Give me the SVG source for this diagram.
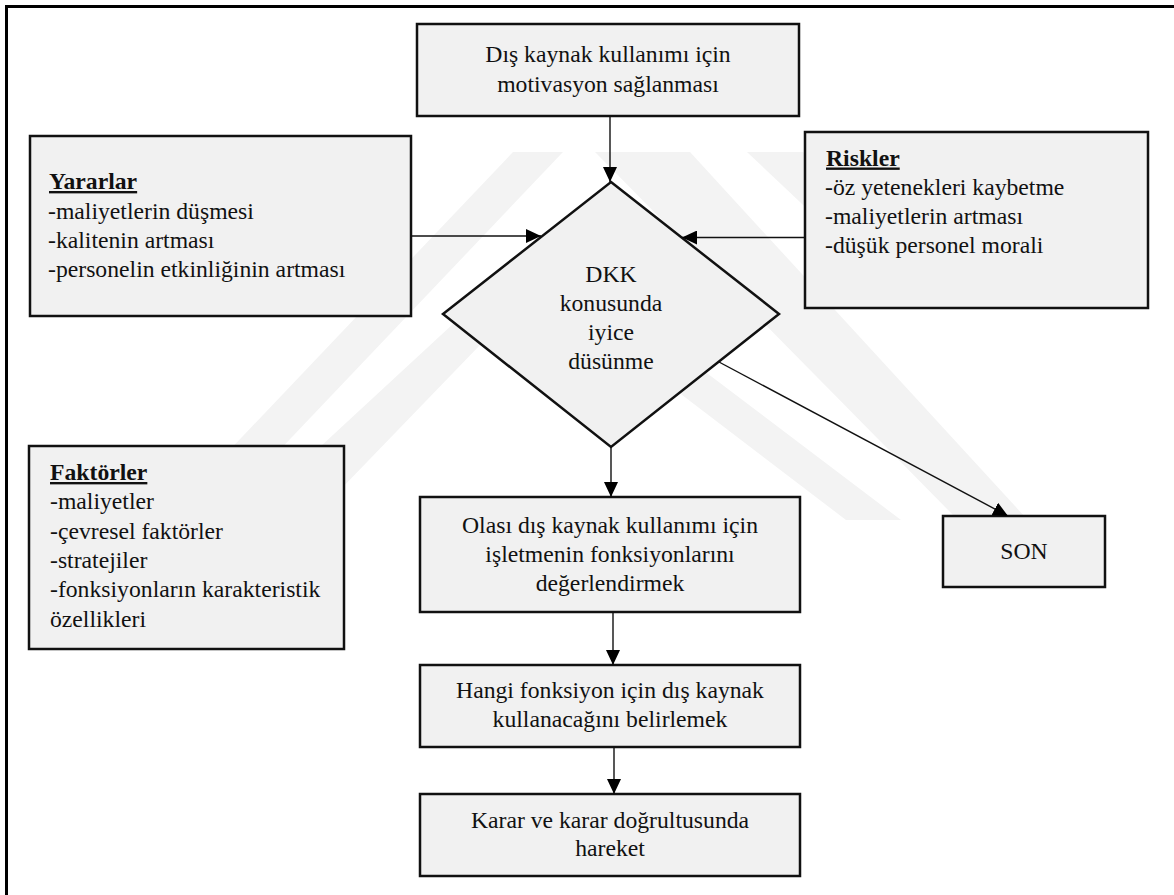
<svg xmlns="http://www.w3.org/2000/svg" width="1174" height="895" viewBox="0 0 1174 895">
<defs>
<style>
text{font-family:'Liberation Serif','DejaVu Serif',serif;font-size:23.7px;fill:#111}
.c{text-anchor:middle}
.h{font-weight:bold;text-decoration:underline}
.box{fill:#f1f1f1;stroke:#111;stroke-width:2.5}
.ln{stroke:#111;stroke-width:1.4;fill:none;marker-end:url(#ah)}
.wm{fill:#f3f3f3}
</style>
<marker id="ah" markerUnits="userSpaceOnUse" markerWidth="16" markerHeight="14" refX="15" refY="7" orient="auto">
<path d="M0,0 L15,7 L0,14 Z" fill="#000"/>
</marker>
</defs>
<rect width="1174" height="895" fill="#fff"/>

<g id="watermark">
<polygon class="wm" points="513,152 563,152 216,517 166,517"/>
<polygon class="wm" points="595,152 690,152 1025,517 955,517"/>
<polygon class="wm" points="747,152 803,152 960,300 904,300"/>
<polygon class="wm" points="520,262 560,262 901,520 846,520 538,285 311,520 241,520"/>
</g>

<path d="M6.5,895 V6.5 H1174" fill="none" stroke="#000" stroke-width="3"/>

<g id="n-motivasyon">
<rect class="box" x="417" y="24" width="382" height="92"/>
<text class="c" x="608" y="62">Dış kaynak kullanımı için</text>
<text class="c" x="608" y="92">motivasyon sağlanması</text>
</g>

<g id="n-yararlar">
<rect class="box" x="30" y="136" width="381" height="180"/>
<text class="h" x="49" y="189">Yararlar</text>
<text x="48" y="218.5">-maliyetlerin düşmesi</text>
<text x="48" y="248">-kalitenin artması</text>
<text x="48" y="277">-personelin etkinliğinin artması</text>
</g>

<g id="n-riskler">
<rect class="box" x="805" y="132" width="343" height="176"/>
<text class="h" x="826" y="165.5">Riskler</text>
<text x="825" y="194.5">-öz yetenekleri kaybetme</text>
<text x="825" y="224">-maliyetlerin artması</text>
<text x="825" y="253">-düşük personel morali</text>
</g>

<g id="n-dkk">
<polygon class="box" points="611,182 779,314 611,447 443,314"/>
<text class="c" x="611" y="282">DKK</text>
<text class="c" x="611" y="311">konusunda</text>
<text class="c" x="611" y="340">iyice</text>
<text class="c" x="611" y="369">düsünme</text>
</g>

<g id="n-faktorler">
<rect class="box" x="29" y="446" width="315" height="203"/>
<text class="h" x="50" y="480">Faktörler</text>
<text x="50" y="509.3">-maliyetler</text>
<text x="50" y="538.6">-çevresel faktörler</text>
<text x="50" y="568">-stratejiler</text>
<text x="50" y="597.3">-fonksiyonların karakteristik</text>
<text x="50" y="626.6">özellikleri</text>
</g>

<g id="n-son">
<rect class="box" x="943" y="516" width="162" height="71"/>
<text class="c" x="1024" y="559">SON</text>
</g>

<g id="n-olasi">
<rect class="box" x="420" y="497" width="380" height="115"/>
<text class="c" x="610" y="533">Olası dış kaynak kullanımı için</text>
<text class="c" x="610" y="562">işletmenin fonksiyonlarını</text>
<text class="c" x="610" y="591">değerlendirmek</text>
</g>

<g id="n-hangi">
<rect class="box" x="420" y="665" width="380" height="82"/>
<text class="c" x="610" y="698">Hangi fonksiyon için dış kaynak</text>
<text class="c" x="610" y="727">kullanacağını belirlemek</text>
</g>

<g id="n-karar">
<rect class="box" x="420" y="794" width="380" height="82"/>
<text class="c" x="610" y="828">Karar ve karar doğrultusunda</text>
<text class="c" x="610" y="856">hareket</text>
</g>

<g id="connectors">
<line class="ln" x1="610" y1="116" x2="610" y2="182"/>
<line class="ln" x1="411" y1="236" x2="541" y2="236"/>
<line class="ln" x1="805" y1="237.5" x2="682" y2="237.5"/>
<line class="ln" x1="719" y1="362" x2="1008" y2="516"/>
<line class="ln" x1="611" y1="447" x2="611" y2="497"/>
<line class="ln" x1="613" y1="612" x2="613" y2="665"/>
<line class="ln" x1="614" y1="747" x2="614" y2="794"/>
</g>
</svg>
